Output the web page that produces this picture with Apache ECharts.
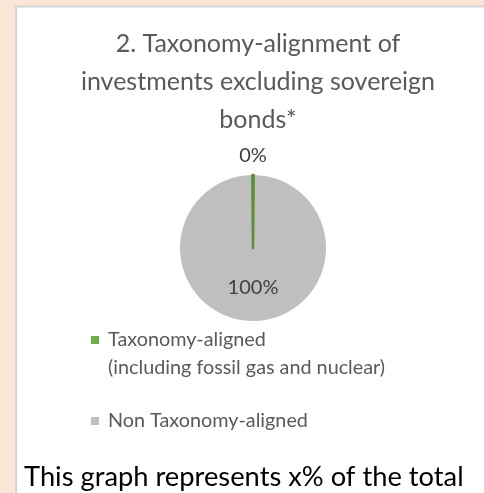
<!DOCTYPE html>
<html>
<head>
<meta charset="utf-8">
<script src="https://cdn.jsdelivr.net/npm/echarts@6/dist/echarts.min.js"></script>
<style>
  html, body { margin: 0; padding: 0; background: #fbe5d6; }
  #chart { width: 484px; height: 493px; }
</style>
</head>
<body>
<div id="chart"></div>
<script>
// ---- data ----
const titleText = '2. Taxonomy-alignment of\ninvestments excluding sovereign\nbonds*';
const categories = ['Taxonomy-aligned\n(including fossil gas and nuclear)', 'Non Taxonomy-aligned'];
const values = [0, 100];
const sliceColors = ['#70ad47', '#bfbfbf'];
const footnote = 'This graph represents x% of the total';

const FONT = 'Lato, "Open Sans", sans-serif';
const chart = echarts.init(document.getElementById('chart'), null, { renderer: 'canvas' });

const seriesData = categories.map((name, i) => {
  const isZero = values[i] === 0;
  return {
    name: name,
    value: values[i],
    itemStyle: isZero
      ? { color: sliceColors[i], borderColor: '#5b9037', borderWidth: 2.5, borderJoin: 'round', borderCap: 'round' }
      : { color: sliceColors[i], borderWidth: 0 },
    label: isZero
      ? { position: 'inside', offset: [0, -53] }
      : { position: 'inside' }
  };
});
// draw the large slice first so the thin zero slice sits on top of it
const drawOrder = seriesData.slice().reverse();

chart.setOption({
  backgroundColor: 'transparent',
  animation: false,
  graphic: [
    {
      type: 'rect',
      z: -10,
      shape: { x: 16, y: 6.5, width: 500, height: 500 },
      style: { fill: '#ffffff', stroke: '#d4d4d4', lineWidth: 2 }
    },
    {
      type: 'text',
      z: 10,
      style: {
        text: footnote,
        x: 24, y: 477,
        fill: '#000000',
        font: '27.3px ' + FONT,
        verticalAlign: 'middle',
        align: 'left'
      }
    }
  ],
  title: {
    text: titleText,
    left: 253,
    textAlign: 'center',
    top: 20,
    textStyle: {
      fontFamily: FONT,
      fontSize: 25,
      fontWeight: 'normal',
      color: '#595959',
      lineHeight: 38
    }
  },
  legend: {
    orient: 'vertical',
    left: 86,
    top: 293,
    icon: 'rect',
    itemWidth: 8,
    itemHeight: 8,
    itemGap: 25,
    data: categories,
    itemStyle: { borderWidth: 0 },
    formatter: (name) => {
      const lines = name.split('\n').map(s => '{t|' + s + '}');
      if (lines.length > 1) lines.unshift('{t| }');
      return lines.join('\n');
    },
    textStyle: {
      fontFamily: FONT,
      fontSize: 19.8,
      color: '#595959',
      lineHeight: 28,
      rich: {
        t: {
          fontFamily: FONT,
          fontSize: 19.8,
          color: '#595959',
          lineHeight: 28,
          padding: [0, 0, 0, 4]
        }
      }
    },
    selectedMode: false
  },
  series: [{
    type: 'pie',
    center: [253, 248],
    radius: [0, 73],
    startAngle: 89.5,
    clockwise: true,
    minAngle: 1,
    avoidLabelOverlap: false,
    labelLine: { show: false },
    label: {
      show: true,
      fontFamily: FONT,
      fontSize: 20,
      color: '#404040',
      formatter: (p) => Math.round(p.value / values.reduce((a, b) => a + b, 0) * 100) + '%'
    },
    emphasis: { disabled: true },
    data: drawOrder
  }]
});
</script>
</body>
</html>
